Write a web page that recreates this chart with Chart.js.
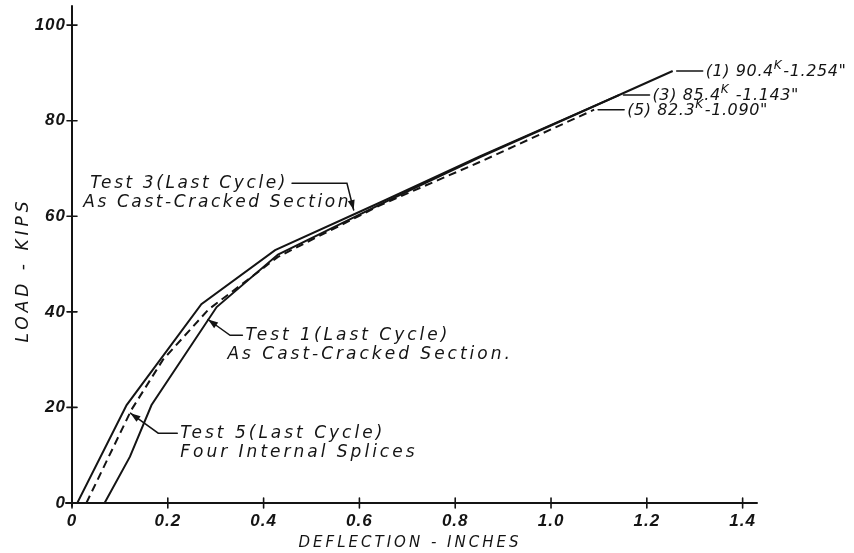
<!DOCTYPE html>
<html>
<head>
<meta charset="utf-8">
<title>Load - deflection, last cycle</title>
<script src="https://cdn.jsdelivr.net/npm/chart.js@4.4.1/dist/chart.umd.min.js"></script>
<style>
  html, body { margin: 0; padding: 0; background: #fff; }
  #wrap { width: 854px; height: 553px; }
</style>
</head>
<body>
<div id="wrap"><canvas id="chart"></canvas></div>
<script>
// ── Data ────────────────────────────────────────────────────────
const xTicks = [0, 0.2, 0.4, 0.6, 0.8, 1.0, 1.2, 1.4];
const yTicks = [0, 20, 40, 60, 80, 100];

// Test 1 (last cycle) – as cast, cracked section
const test1Defl = [0.068, 0.121, 0.166, 0.302, 0.43, 0.65, 0.85, 1.0, 1.254];
const test1Load = [0, 9.7, 20.5, 41.0, 52.0, 62.8, 72.3, 79.0, 90.4];

// Test 3 (last cycle) – as cast, cracked section
const test3Defl = [0.011, 0.114, 0.27, 0.424, 0.65, 0.85, 1.143];
const test3Load = [0, 20.5, 41.6, 52.9, 63.2, 72.5, 85.4];

// Test 5 (last cycle) – four internal splices
const test5Defl = [0.03, 0.124, 0.19, 0.285, 0.43, 0.643, 0.85, 1.09];
const test5Load = [0, 19.5, 30, 40.5, 51.5, 62.3, 71.3, 82.3];

const INK = '#141414';
const FONT = '"DejaVu Sans", "Liberation Sans", sans-serif';
const NUM_FONT = '"Liberation Sans", "DejaVu Sans", sans-serif';

function pts(xs, ys) {
  return xs.map((v, i) => ({ x: v, y: ys[i] }));
}

function series(label, xs, ys, dash) {
  return {
    label,
    data: pts(xs, ys),
    showLine: true,
    borderColor: INK,
    borderWidth: 2,
    borderDash: dash || [],
    pointRadius: 0,
    tension: 0,
  };
}

// ── Drawing helpers ─────────────────────────────────────────────
function arrowHead(ctx, from, to) {
  const ang = Math.atan2(to.y - from.y, to.x - from.x);
  const len = 10, half = 3.5;
  ctx.beginPath();
  ctx.moveTo(to.x, to.y);
  ctx.lineTo(to.x - len * Math.cos(ang) + half * Math.sin(ang), to.y - len * Math.sin(ang) - half * Math.cos(ang));
  ctx.lineTo(to.x - len * Math.cos(ang) - half * Math.sin(ang), to.y - len * Math.sin(ang) + half * Math.cos(ang));
  ctx.closePath();
  ctx.fill();
}

function polyline(ctx, p) {
  ctx.beginPath();
  ctx.moveTo(p[0].x, p[0].y);
  p.slice(1).forEach(q => ctx.lineTo(q.x, q.y));
  ctx.stroke();
}

// text with a raised "K" (kips)
function kipText(ctx, x, y, before, after) {
  ctx.font = 'italic 16px ' + FONT;
  ctx.fillText(before, x, y);
  x += ctx.measureText(before).width;
  ctx.font = 'italic 12px ' + FONT;
  ctx.fillText('K', x, y - 6);
  x += ctx.measureText('K').width + 1;
  ctx.font = 'italic 16px ' + FONT;
  ctx.fillText(after, x, y);
}

const notes = [
  { lines: ['Test 3(Last Cycle)', 'As Cast-Cracked Section'], at: [0.038, 66.9], indent: -7,
    elbow: [0.574, 66.9], tip: [0.588, 61.3], side: 'right', spacing: '2.6px' },
  { lines: ['Test 1(Last Cycle)', 'As Cast-Cracked Section.'], at: [0.362, 35.1], indent: -18,
    elbow: [0.33, 35.1], tip: [0.284, 38.4], side: 'left', spacing: '3px' },
  { lines: ['Test 5(Last Cycle)', 'Four Internal Splices'], at: [0.226, 14.6], indent: 0,
    elbow: [0.18, 14.6], tip: [0.122, 18.8], side: 'left', spacing: '3px' },
];

const endNotes = [
  { tag: '(1)', defl: test1Defl, load: test1Load, sep: '-' },
  { tag: '(3)', defl: test3Defl, load: test3Load, sep: ' -' },
  { tag: '(5)', defl: test5Defl, load: test5Load, sep: '-' },
];

const inkPlugin = {
  id: 'ink',
  beforeDraw(chart) {
    chart.ctx.letterSpacing = '1px';
  },
  afterDraw(chart) {
    const { ctx, chartArea: a, scales: { x, y } } = chart;
    const P = (dx, ly) => ({ x: x.getPixelForValue(dx), y: y.getPixelForValue(ly) });
    ctx.save();
    ctx.strokeStyle = INK;
    ctx.fillStyle = INK;
    ctx.lineCap = 'round';

    // axes with crossing ticks
    ctx.lineWidth = 2;
    ctx.beginPath();
    ctx.moveTo(a.left, a.bottom + 3);
    ctx.lineTo(a.left, a.top);
    ctx.moveTo(a.left - 6, a.bottom);
    ctx.lineTo(a.right, a.bottom);
    ctx.stroke();
    ctx.lineWidth = 1.6;
    ctx.beginPath();
    xTicks.forEach(v => {
      const px = x.getPixelForValue(v);
      ctx.moveTo(px, a.bottom - 5);
      ctx.lineTo(px, a.bottom + 5);
    });
    yTicks.forEach(v => {
      const py = y.getPixelForValue(v);
      ctx.moveTo(a.left - 5, py);
      ctx.lineTo(a.left + 5, py);
    });
    ctx.stroke();

    // axis titles
    ctx.letterSpacing = '3px';
    ctx.font = 'italic 15px ' + FONT;
    ctx.textAlign = 'center';
    ctx.textBaseline = 'middle';
    ctx.fillText('DEFLECTION - INCHES', 410, 543);
    ctx.save();
    ctx.translate(24, 270);
    ctx.rotate(-Math.PI / 2);
    ctx.letterSpacing = '4px';
    ctx.font = 'italic 17px ' + FONT;
    ctx.fillText('LOAD - KIPS', 0, 0);
    ctx.restore();

    // curve notes with leaders
    ctx.textAlign = 'left';
    ctx.lineWidth = 1.5;
    notes.forEach(n => {
      ctx.font = 'italic 17px ' + FONT;
      ctx.letterSpacing = n.spacing;
      const t = P(n.at[0], n.at[1]);
      ctx.fillText(n.lines[0], t.x, t.y);
      ctx.fillText(n.lines[1], t.x + n.indent, t.y + 19);
      const w = ctx.measureText(n.lines[0]).width;
      const start = n.side === 'right' ? { x: t.x + w + 4, y: t.y } : { x: t.x - 3, y: t.y };
      const elbow = P(n.elbow[0], n.elbow[1]);
      const tip = P(n.tip[0], n.tip[1]);
      polyline(ctx, [start, { x: elbow.x, y: t.y }, tip]);
      arrowHead(ctx, { x: elbow.x, y: t.y }, tip);
    });

    // end-point values
    ctx.letterSpacing = '0.6px';
    endNotes.forEach(e => {
      const last = e.defl.length - 1;
      const end = P(e.defl[last], e.load[last]);
      polyline(ctx, [{ x: end.x + 4, y: end.y }, { x: end.x + 30, y: end.y }]);
      kipText(ctx, end.x + 33, end.y + 1,
        e.tag + ' ' + e.load[last].toFixed(1),
        e.sep + e.defl[last].toFixed(3) + '"');
    });
    ctx.restore();
  },
};

// ── Chart ───────────────────────────────────────────────────────
const tickFont = { family: NUM_FONT, style: 'italic', weight: 'bold', size: 17 };

new Chart(document.getElementById('chart'), {
  type: 'scatter',
  data: {
    datasets: [
      series('Test 1', test1Defl, test1Load),
      series('Test 3', test3Defl, test3Load),
      series('Test 5', test5Defl, test5Load, [8, 5]),
    ],
  },
  options: {
    responsive: true,
    maintainAspectRatio: false,
    animation: false,
    layout: { padding: { top: 6, right: 97, bottom: 0, left: 0 } },
    plugins: { legend: { display: false }, tooltip: { enabled: false } },
    scales: {
      x: {
        type: 'linear',
        min: 0,
        max: 1.43,
        grid: { display: false, drawTicks: false },
        border: { display: false },
        afterBuildTicks: s => { s.ticks = xTicks.map(v => ({ value: v })); },
        afterFit: s => { s.height = 50; s.paddingLeft = 0; s.paddingRight = 0; },
        ticks: {
          color: INK,
          padding: 8,
          font: tickFont,
          callback: v => (v === 0 ? '0' : v.toFixed(1)),
        },
      },
      y: {
        type: 'linear',
        min: 0,
        max: 104,
        grid: { display: false, drawTicks: false },
        border: { display: false },
        afterBuildTicks: s => { s.ticks = yTicks.map(v => ({ value: v })); },
        afterFit: s => { s.width = 72; s.paddingTop = 0; s.paddingBottom = 0; },
        ticks: {
          color: INK,
          padding: 6,
          font: tickFont,
        },
      },
    },
  },
  plugins: [inkPlugin],
});
</script>
</body>
</html>
